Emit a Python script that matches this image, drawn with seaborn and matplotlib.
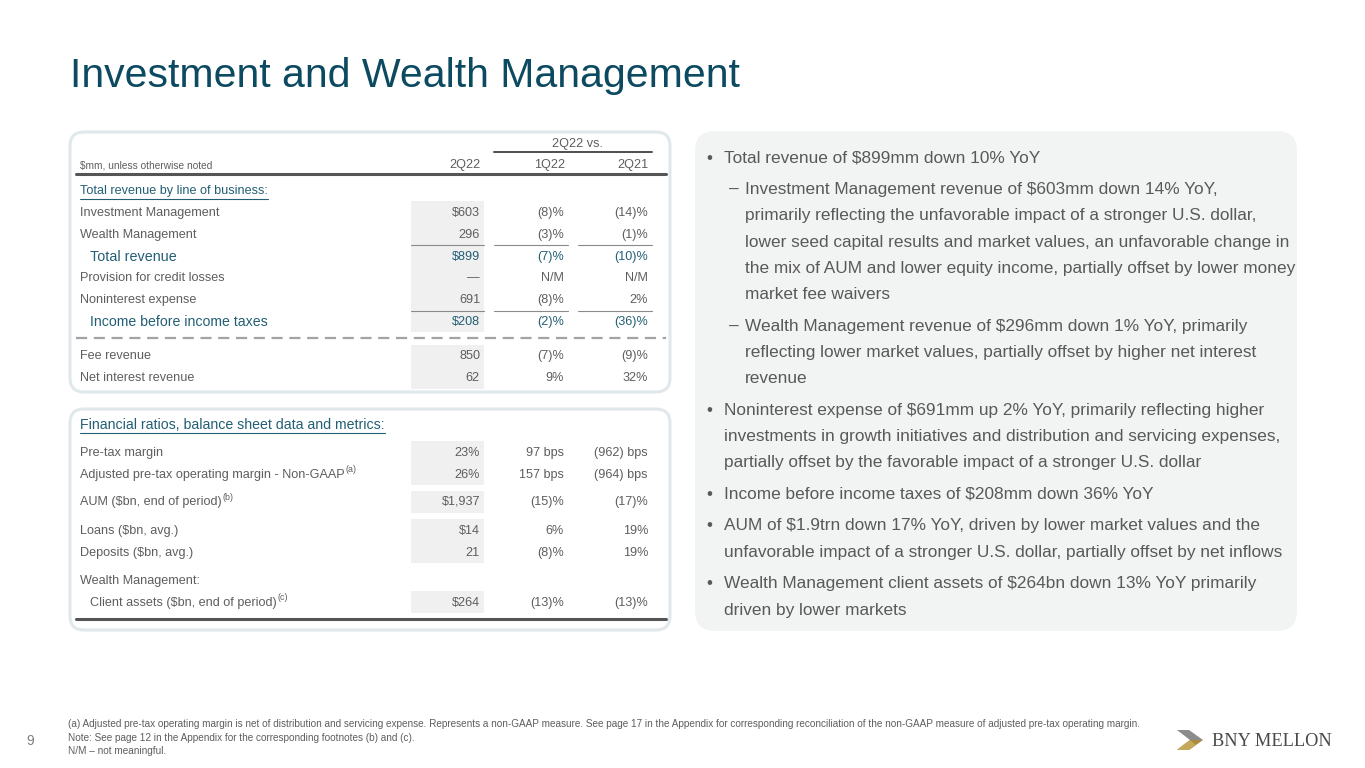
import matplotlib
matplotlib.use('Agg')
import matplotlib.pyplot as plt
import seaborn as sns
from matplotlib.patches import FancyBboxPatch, Rectangle, Polygon

# ---------------- datos ----------------
titulo = 'Investment and Wealth Management'
grupo_head = '2Q22 vs.'
unidades = '$mm, unless otherwise noted'
col_heads = ['2Q22', '1Q22', '2Q21']

seccion1 = 'Total revenue by line of business:'
filas1 = ['Investment Management', 'Wealth Management', 'Total revenue',
          'Provision for credit losses', 'Noninterest expense',
          'Income before income taxes']
v2q22_1 = ['$603', '296', '$899', '\u2014', '691', '$208']
v1q22_1 = ['(8)%', '(3)%', '(7)%', 'N/M', '(8)%', '(2)%']
v2q21_1 = ['(14)%', '(1)%', '(10)%', 'N/M', '2%', '(36)%']
destacadas1 = ['Total revenue', 'Income before income taxes']

filas1b = ['Fee revenue', 'Net interest revenue']
v2q22_1b = ['850', '62']
v1q22_1b = ['(7)%', '9%']
v2q21_1b = ['(9)%', '32%']

seccion2 = 'Financial ratios, balance sheet data and metrics:'
filas2 = ['Pre-tax margin', 'Adjusted pre-tax operating margin - Non-GAAP',
          'AUM ($bn, end of period)', 'Loans ($bn, avg.)', 'Deposits ($bn, avg.)',
          'Wealth Management:', 'Client assets ($bn, end of period)']
notas2 = ['', '(a)', '(b)', '', '', '', '(c)']
v2q22_2 = ['23%', '26%', '$1,937', '$14', '21', '', '$264']
v1q22_2 = ['97 bps', '157 bps', '(15)%', '6%', '(8)%', '', '(13)%']
v2q21_2 = ['(962) bps', '(964) bps', '(17)%', '19%', '19%', '', '(13)%']

bullets = [
    (0, ['Total revenue of $899mm down 10% YoY']),
    (1, ['Investment Management revenue of $603mm down 14% YoY,',
         'primarily reflecting the unfavorable impact of a stronger U.S. dollar,',
         'lower seed capital results and market values, an unfavorable change in',
         'the mix of AUM and lower equity income, partially offset by lower money',
         'market fee waivers']),
    (1, ['Wealth Management revenue of $296mm down 1% YoY, primarily',
         'reflecting lower market values, partially offset by higher net interest',
         'revenue']),
    (0, ['Noninterest expense of $691mm up 2% YoY, primarily reflecting higher',
         'investments in growth initiatives and distribution and servicing expenses,',
         'partially offset by the favorable impact of a stronger U.S. dollar']),
    (0, ['Income before income taxes of $208mm down 36% YoY']),
    (0, ['AUM of $1.9trn down 17% YoY, driven by lower market values and the',
         'unfavorable impact of a stronger U.S. dollar, partially offset by net inflows']),
    (0, ['Wealth Management client assets of $264bn down 13% YoY primarily',
         'driven by lower markets']),
]

notas_pie = ['(a) Adjusted pre-tax operating margin is net of distribution and servicing expense. '
             'Represents a non-GAAP measure. See page 17 in the Appendix for corresponding '
             'reconciliation of the non-GAAP measure of adjusted pre-tax operating margin.',
             'Note: See page 12 in the Appendix for the corresponding footnotes (b) and (c).',
             'N/M \u2013 not meaningful.']
pagina = '9'
logo = 'BNY MELLON'

# ---------------- estilo ----------------
sns.set_theme(style='white')
plt.rcParams['font.family'] = ['Liberation Sans', 'DejaVu Sans']

TEAL = '#0b4a60'
TEAL2 = '#235f74'
GRIS = '#595959'
GRIS_T = '#5e5e5e'
FONDO = '#f2f3f3'
BORDE = '#e1e8eb'
SOMBRA = '#f0f0f0'
NARROW = ['Liberation Sans Narrow', 'Liberation Sans', 'DejaVu Sans']
REG = ['Liberation Sans', 'DejaVu Sans']

fig = plt.figure(figsize=(13.65, 7.68), dpi=100)
ax = fig.add_axes([0, 0, 1, 1])
ax.set_xlim(0, 1365)
ax.set_ylim(768, 0)
ax.axis('off')
fig.canvas.draw()
rend = fig.canvas.get_renderer()


def txt(x, y, s, size, color=GRIS, family=NARROW, **kw):
    return ax.text(x, y, s, fontsize=size, color=color, family=family,
                   parse_math=False, va='center', **kw)


def ancho(t):
    return t.get_window_extent(renderer=rend).width


def ajustar(t, objetivo):
    # escala el tamaño de letra para que el ancho coincida
    w = ancho(t)
    t.set_fontsize(t.get_fontsize() * objetivo / w)
    return t


# calibrar tamaños
prueba = txt(0, -100, 'Adjusted pre-tax operating margin - Non-GAAP', 10)
T_SIZE = 10 * 265 / ancho(prueba)
prueba.remove()
prueba = txt(0, -100, bullets[3][1][1], 12, family=REG)
B_SIZE = 12 * 556 / ancho(prueba)
prueba.remove()

# ---------------- título ----------------
t = txt(70, 76, titulo, 30, color=TEAL, family=NARROW)
ajustar(t, 667)

# ---------------- cajas ----------------
for (y0, y1) in [(132, 392), (409, 630)]:
    ax.add_patch(FancyBboxPatch((70, y0), 600, y1 - y0,
                                boxstyle='round,pad=0,rounding_size=14',
                                fc='white', ec=BORDE, lw=2.2, zorder=1))
ax.add_patch(FancyBboxPatch((695, 131), 602, 500,
                            boxstyle='round,pad=0,rounding_size=20',
                            fc=FONDO, ec='none', zorder=1))

# columnas
XL = 80
XI = 90
XC = [480, 564, 648]
SH = (411, 484)

# sombreado de la columna 2Q22
for (y0, y1) in [(201, 332), (345, 389), (441, 485), (491, 513), (519, 563), (591, 613)]:
    ax.add_patch(Rectangle((SH[0], y0), SH[1] - SH[0], y1 - y0, fc=SOMBRA, ec='none', zorder=2))

# ---------------- tabla 1 ----------------
txt(578, 144, grupo_head, T_SIZE, color=GRIS_T, ha='center')
ax.plot([494, 652], [151.5, 151.5], color='#4d4d4d', lw=1.4, zorder=3)
txt(XL, 165, unidades, T_SIZE * 0.8, color=GRIS_T)
for xc, h in zip(XC, col_heads):
    txt(xc + 1, 165, h, T_SIZE, color=GRIS_T, ha='right')
ax.plot([76, 666], [174, 174], color='#555555', lw=2.2, zorder=3)

s = txt(XL, 191, seccion1, T_SIZE, color=TEAL2)
w = ancho(s)
ax.plot([XL, XL + w], [198.5, 198.5], color=TEAL2, lw=0.8, zorder=3)

ys1 = [213, 235, 257, 278, 300, 322]
for y, lab, a, b, c in zip(ys1, filas1, v2q22_1, v1q22_1, v2q21_1):
    if lab in destacadas1:
        col = TEAL2
        tt = txt(XI, y, lab, T_SIZE, color=col, family=REG)
        ajustar(tt, 87 if lab == 'Total revenue' else 178)
    else:
        col = GRIS_T
        txt(XL, y, lab, T_SIZE, color=col)
    for xc, v in zip(XC, [a, b, c]):
        txt(xc, y, v, T_SIZE, color=col, ha='right')

for yl in [245, 311]:
    for (x0, x1) in [(411, 484), (494, 568), (578, 652)]:
        ax.plot([x0, x1], [yl, yl], color='#8a8a8a', lw=0.8, zorder=3)

ax.plot([76, 666], [338, 338], color='#a3a3a3', lw=1.6, ls=(0, (5, 3)), zorder=3)

for y, lab, a, b, c in zip([356, 378], filas1b, v2q22_1b, v1q22_1b, v2q21_1b):
    txt(XL, y, lab, T_SIZE, color=GRIS_T)
    for xc, v in zip(XC, [a, b, c]):
        txt(xc, y, v, T_SIZE, color=GRIS_T, ha='right')

# ---------------- tabla 2 ----------------
s = txt(XL, 425, seccion2, T_SIZE, color=TEAL2, family=REG)
ajustar(s, 304)
w = ancho(s)
ax.plot([XL, XL + w], [432.5, 432.5], color=TEAL2, lw=0.8, zorder=3)

ys2 = [453, 475, 502, 531, 553, 581, 603]
for y, lab, nota, a, b, c in zip(ys2, filas2, notas2, v2q22_2, v1q22_2, v2q21_2):
    x = XI if lab.startswith('Client') else XL
    tt = txt(x, y, lab, T_SIZE, color=GRIS_T)
    if nota:
        txt(x + ancho(tt) + 1, y - 5, nota, T_SIZE * 0.7, color=GRIS_T)
    for xc, v in zip(XC, [a, b, c]):
        if v:
            txt(xc, y, v, T_SIZE, color=GRIS_T, ha='right')
ax.plot([76, 666], [619, 619], color='#555555', lw=2.2, zorder=3)

# ---------------- viñetas ----------------
y = 158
primera = True
for nivel, lineas in bullets:
    if not primera:
        y += 31.5
    primera = False
    if nivel == 0:
        txt(706, y, '\u2022', B_SIZE, color=GRIS, family=REG)
        xt = 724
    else:
        txt(729, y, '\u2013', B_SIZE, color=GRIS, family=REG)
        xt = 745
    for i, ln in enumerate(lineas):
        if i > 0:
            y += 26.3
        txt(xt, y, ln, B_SIZE, color=GRIS, family=REG)

# ---------------- pie ----------------
f = txt(68, 724, notas_pie[0], 7, color=GRIS_T)
ajustar(f, 1072)
fs = f.get_fontsize()
txt(68, 738, notas_pie[1], fs, color=GRIS_T)
txt(68, 751, notas_pie[2], fs, color=GRIS_T)
txt(26, 741, pagina, 10, color='#7f7f7f')

# logo
ax.add_patch(Polygon([(1177, 730), (1189, 730), (1203, 740), (1190, 740)],
                     closed=True, fc='#8c8c8c', ec='none'))
ax.add_patch(Polygon([(1190, 740), (1203, 740), (1189, 750), (1177, 750)],
                     closed=True, fc='#a88b3c', ec='none'))
ax.add_patch(Polygon([(1183, 745), (1190, 740), (1196, 745), (1189, 750), (1177, 750)],
                     closed=True, fc='#c4a95a', ec='none'))
lg = txt(1212, 741, logo, 13, color='#4a4a4a', family=['Liberation Serif', 'DejaVu Serif'])
ajustar(lg, 119)

fig.savefig('out.png', dpi=100)
